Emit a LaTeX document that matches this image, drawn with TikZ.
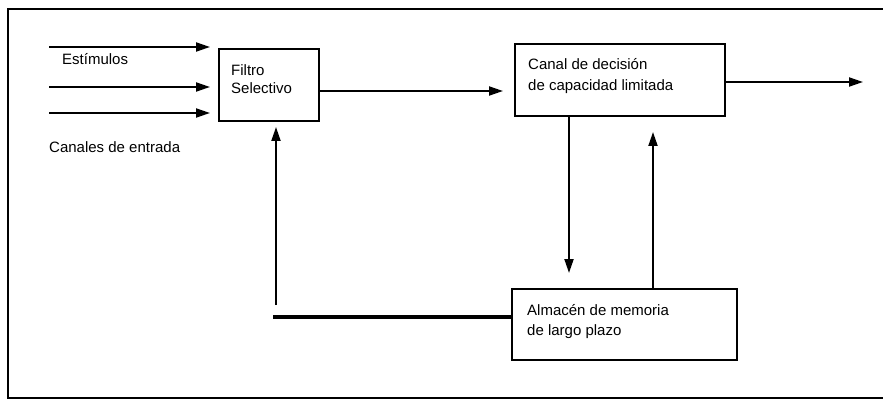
\documentclass[tikz,border=0pt]{standalone}
\usepackage{fontspec}
\setmainfont{Liberation Sans}
\usetikzlibrary{arrows.meta}
\begin{document}
\begin{tikzpicture}[x=1pt,y=-1pt,
  box/.style={draw,line width=2pt,minimum width=#1,inner sep=0pt},
  lbl/.style={anchor=base west,inner sep=0pt,font=\fontsize{15}{18}\selectfont},
  conn/.style={line width=2pt,-{Triangle[length=14pt,width=9pt]}},
  fb/.style={line width=4pt}]
\useasboundingbox (0,0) rectangle (883,406);
% frame
\draw[line width=2pt] (883,9) -- (8,9) -- (8,398) -- (883,398);
% boxes
\node[box=100pt,minimum height=72pt] (filtro) at (269,85) {};
\node[box=210pt,minimum height=72pt] (canal) at (620,80) {};
\node[box=225pt,minimum height=71pt] (alm) at (624.5,324.5) {};
% texts
\node[lbl] (t1) at (62,65) {Estímulos};
\node[lbl] (t2) at (49,153) {Canales de entrada};
\node[lbl] (t3) at (231,76) {Filtro};
\node[lbl] (t4) at (231,94) {Selectivo};
\node[lbl] (t5) at (528,70) {Canal de decisión};
\node[lbl] (t6) at (528,91) {de capacidad limitada};
\node[lbl] (t7) at (527,315) {Almacén de memoria};
\node[lbl] (t8) at (527,335) {de largo plazo};
% coordinates
\coordinate (i1s) at (49,47);  \coordinate (i1e) at (210,47);
\coordinate (i2s) at (49,87);  \coordinate (i2e) at (210,87);
\coordinate (i3s) at (49,113); \coordinate (i3e) at (210,113);
\coordinate (fc) at (503,91);
\coordinate (out) at (863,82);
\coordinate (dn) at (569,273);
\coordinate (up) at (653,132);
\coordinate (fbL) at (273,317);
\coordinate (fbV) at (276,305);
\coordinate (fbT) at (276,127);
% input arrows
\draw[conn] (i1s) -- (i1e);
\draw[conn] (i2s) -- (i2e);
\draw[conn] (i3s) -- (i3e);
% filtro -> canal
\draw[conn] (filtro.east |- fc) -- (fc);
% output
\draw[conn] (canal.east |- out) -- (out);
% canal -> almacen
\draw[conn] (canal.south -| dn) -- (dn);
% almacen -> canal
\draw[conn] (alm.north -| up) -- (up);
% feedback
\draw[fb] (alm.west |- fbL) -- (fbL);
\draw[conn] (fbV) -- (fbT);
\end{tikzpicture}
\end{document}
